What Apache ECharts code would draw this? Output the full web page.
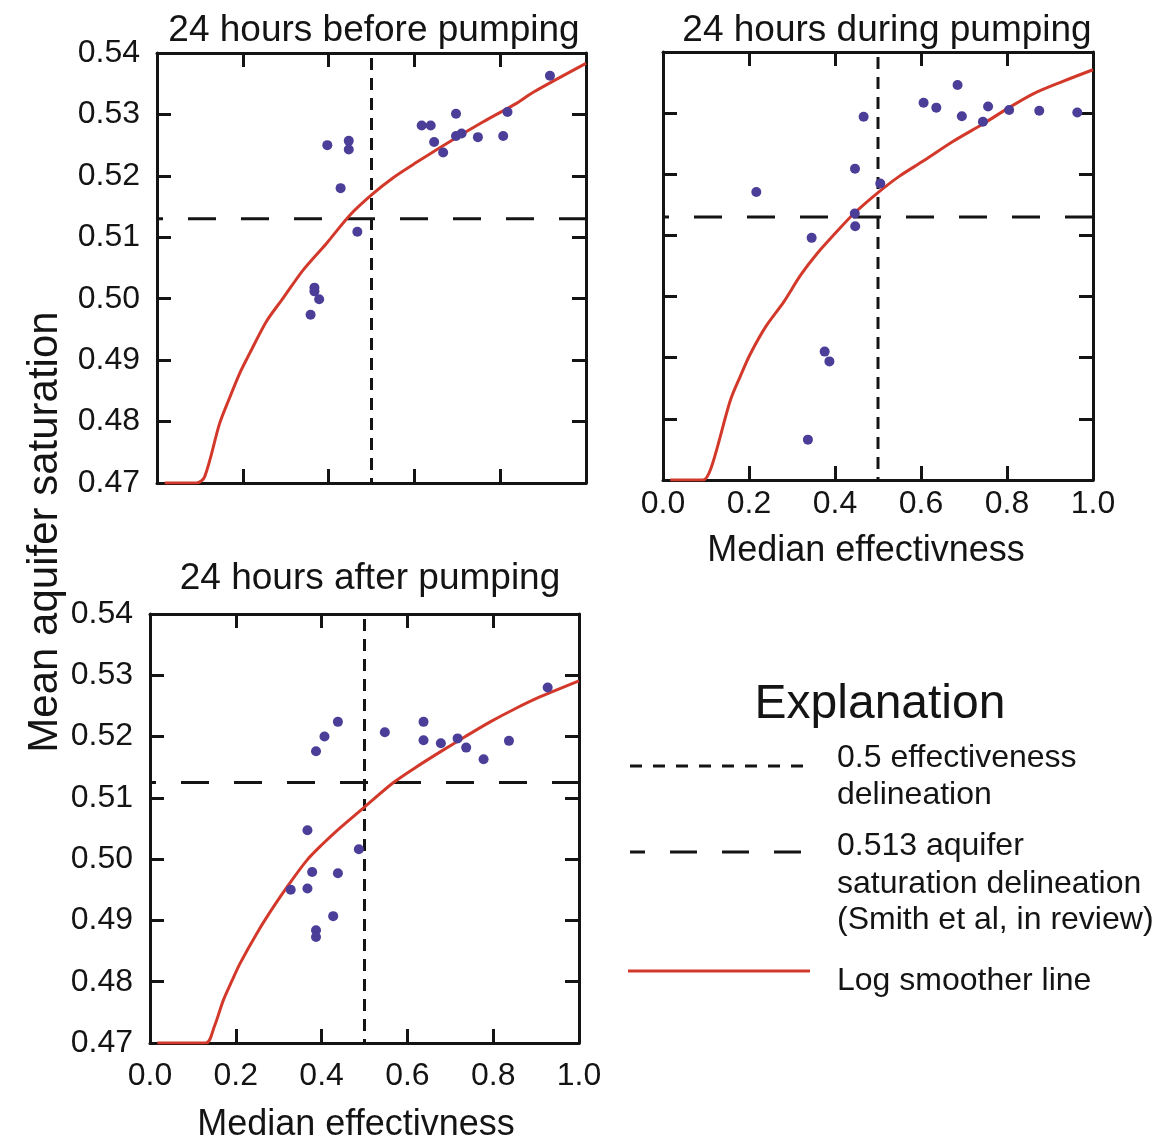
<!DOCTYPE html>
<html><head><meta charset="utf-8">
<script src="https://cdn.jsdelivr.net/npm/echarts/dist/echarts.min.js"></script>
<style>html,body{margin:0;padding:0;background:#fff}#c{width:1154px;height:1139px}</style>
</head><body><div id="c"></div>
<script>
// ---------- data ----------
const panelTitles = ['24 hours before pumping', '24 hours during pumping', '24 hours after pumping'];
const xTickValues = [0.0, 0.2, 0.4, 0.6, 0.8, 1.0];
const yTickValues = [0.47, 0.48, 0.49, 0.50, 0.51, 0.52, 0.53, 0.54];
const xName = 'Median effectivness';
const yName = 'Mean aquifer saturation';

const beforePoints = [[0.916,0.5363],[0.697,0.5301],[0.817,0.5304],[0.617,0.5282],[0.638,0.5282],
  [0.397,0.5250],[0.447,0.5257],[0.447,0.5243],[0.646,0.5255],[0.667,0.5238],[0.697,0.5265],
  [0.710,0.5269],[0.748,0.5263],[0.807,0.5265],[0.428,0.5180],[0.467,0.5109],[0.367,0.5018],
  [0.367,0.5012],[0.378,0.4999],[0.358,0.4974]];
const beforeCurve = [[0.018,0.47],[0.092,0.47],[0.111,0.4710],[0.146,0.4797],[0.170,0.4840],
  [0.193,0.4879],[0.216,0.4911],[0.255,0.4963],[0.294,0.5001],[0.341,0.5047],[0.395,0.5090],
  [0.4495,0.5136],[0.5,0.5169],[0.5505,0.5197],[0.605,0.5222],[0.683,0.5256],[0.7605,0.5288],
  [0.838,0.5318],[0.877,0.5336],[1.0,0.5383]];

const duringPoints = [[0.217,0.5171],[0.3457,0.5096],[0.337,0.4766],[0.376,0.4910],[0.387,0.4894],
  [0.4465,0.5209],[0.446,0.5136],[0.447,0.5115],[0.4666,0.5294],[0.5053,0.5185],[0.606,0.5317],
  [0.6356,0.5309],[0.685,0.5346],[0.695,0.5295],[0.756,0.5311],[0.744,0.5286],[0.805,0.5305],
  [0.875,0.5304],[0.9635,0.5301]];
const duringCurve = [[0.017,0.47],[0.093,0.47],[0.112,0.4720],[0.1565,0.4830],[0.18,0.4870],
  [0.203,0.4906],[0.24,0.4952],[0.2805,0.4991],[0.32,0.5035],[0.358,0.5070],[0.40,0.5103],
  [0.443,0.5135],[0.5,0.5170],[0.55,0.5197],[0.606,0.5222],[0.675,0.5254],[0.7457,0.5283],
  [0.80,0.5307],[0.862,0.5332],[0.93,0.5352],[1.0,0.5371]];

const afterPoints = [[0.927,0.5280],[0.438,0.5224],[0.6376,0.5224],[0.4067,0.5200],[0.387,0.5176],
  [0.5474,0.5207],[0.6376,0.5194],[0.678,0.5189],[0.717,0.5197],[0.737,0.5182],[0.7776,0.5163],
  [0.8367,0.5193],[0.367,0.5047],[0.4868,0.5016],[0.378,0.4979],[0.438,0.4977],[0.328,0.4950],
  [0.367,0.4952],[0.427,0.4907],[0.387,0.4884],[0.387,0.4873]];
const afterCurve = [[0.017,0.47],[0.130,0.47],[0.15,0.4727],[0.171,0.4770],[0.19,0.4800],
  [0.21,0.4830],[0.25,0.4880],[0.2877,0.4922],[0.325,0.4960],[0.3655,0.4998],[0.40,0.5023],
  [0.443,0.5051],[0.5,0.5085],[0.5676,0.5125],[0.62,0.5150],[0.6765,0.5175],[0.735,0.5200],
  [0.793,0.5224],[0.85,0.5245],[0.91,0.5265],[1.0,0.5291]];

const effectivenessCut = [0.5, 0.5, 0.5];
const saturationCut = [0.513, 0.513, 0.5125];

const legendLabels = ['0.5 effectiveness', 'delineation', '0.513 aquifer', 'saturation delineation',
  '(Smith et al, in review)', 'Log smoother line'];
const legendTitle = 'Explanation';

// ---------- chart ----------
const FONT = '"Liberation Sans", Arial, Helvetica, sans-serif';
const INK = '#141414';
const RED = '#d3392b';
const DOT = '#4a3e98';

const pointsAll = [beforePoints, duringPoints, afterPoints];
const curvesAll = [beforeCurve, duringCurve, afterCurve];

const grids = [
  {left: 157, top: 53, width: 429, height: 430},
  {left: 663, top: 52, width: 430, height: 428},
  {left: 150, top: 614, width: 429, height: 429}
];
const showX = [false, true, true];
const showY = [true, false, true];
const xLabelMargin = [8, 8, 17];
const xNameGap = [50, 53, 64];
const xNameShift = [0, 24, 17];

const xMin = xTickValues[0], xMax = xTickValues[xTickValues.length - 1];
const yMin = yTickValues[0], yMax = yTickValues[yTickValues.length - 1];

function baseAxis() {
  return {
    axisLine: {show: true, onZero: false, lineStyle: {color: INK, width: 3}},
    axisTick: {show: true, inside: true, length: 14, lineStyle: {color: INK, width: 3}},
    splitLine: {show: false},
    minorTick: {show: false}
  };
}

const xAxes = [], yAxes = [], series = [];
grids.forEach((g, i) => {
  xAxes.push(Object.assign(baseAxis(), {
    type: 'value', gridIndex: i, position: 'bottom', min: xMin, max: xMax, interval: 0.2,
    name: showX[i] ? xName : '', nameLocation: 'middle', nameGap: xNameGap[i],
    nameTextStyle: {fontFamily: FONT, fontSize: 36, color: INK, padding: [0, xNameShift[i], 0, 0]},
    axisLabel: {show: showX[i], margin: xLabelMargin[i], fontFamily: FONT, fontSize: 32, color: INK,
      showMinLabel: true, showMaxLabel: true, hideOverlap: false,
      formatter: v => v.toFixed(1)}
  }));
  xAxes.push(Object.assign(baseAxis(), {
    type: 'value', gridIndex: i, position: 'top', min: xMin, max: xMax, interval: 0.2,
    axisLabel: {show: false}
  }));
  yAxes.push(Object.assign(baseAxis(), {
    type: 'value', gridIndex: i, position: 'left', min: yMin, max: yMax, interval: 0.01,
    axisLabel: {show: showY[i], margin: 17, fontFamily: FONT, fontSize: 32, color: INK,
      showMinLabel: true, showMaxLabel: true, hideOverlap: false,
      formatter: v => v.toFixed(2)}
  }));
  yAxes.push(Object.assign(baseAxis(), {
    type: 'value', gridIndex: i, position: 'right', min: yMin, max: yMax, interval: 0.01,
    axisLabel: {show: false}
  }));
  const xi = i * 2, yi = i * 2;
  // horizontal delineation
  series.push({
    type: 'line', xAxisIndex: xi, yAxisIndex: yi, symbol: 'none', silent: true, z: 3,
    data: [[xMin, saturationCut[i]], [xMax, saturationCut[i]]],
    lineStyle: {color: INK, width: 3, type: [28, 25], dashOffset: 22}
  });
  // vertical delineation
  series.push({
    type: 'line', xAxisIndex: xi, yAxisIndex: yi, symbol: 'none', silent: true, z: 3,
    data: [[effectivenessCut[i], yMax], [effectivenessCut[i], yMin]],
    lineStyle: {color: INK, width: 3, type: [12, 8], dashOffset: -5}
  });
  // log smoother
  series.push({
    type: 'line', xAxisIndex: xi, yAxisIndex: yi, symbol: 'none', silent: true, z: 4,
    smooth: 0.3,
    data: curvesAll[i],
    lineStyle: {color: RED, width: 3}
  });
  // points
  series.push({
    type: 'scatter', xAxisIndex: xi, yAxisIndex: yi, symbol: 'circle', symbolSize: 10, z: 5,
    data: pointsAll[i],
    itemStyle: {color: DOT, opacity: 1}
  });
});

function txt(text, x, y, size, align, extra) {
  return Object.assign({
    type: 'text', x: x, y: y, silent: true,
    style: {text: text, fill: INK, font: size + 'px ' + FONT, fontSize: size, fontFamily: FONT,
      textAlign: align, textVerticalAlign: 'middle', verticalAlign: 'middle'}
  }, extra || {});
}
function seg(x1, x2, y, stroke, dash, offset) {
  return {type: 'line', silent: true,
    shape: {x1: x1, y1: y, x2: x2, y2: y},
    style: {stroke: stroke, lineWidth: 3, lineDash: dash, lineDashOffset: offset || 0}};
}

const graphic = [
  txt(panelTitles[0], 374, 31, 37, 'center'),
  txt(panelTitles[1], 887, 31, 37, 'center'),
  txt(panelTitles[2], 370, 579, 37, 'center'),
  txt(yName, 45, 532, 42, 'center', {rotation: Math.PI / 2}),
  txt(legendTitle, 880, 705, 48, 'center'),
  seg(630, 810, 766, INK, [12, 11], 0),
  seg(630, 806, 852, INK, [27, 25], 12),
  seg(628, 810, 971, RED, null, 0),
  txt(legendLabels[0], 837, 758, 32, 'left'),
  txt(legendLabels[1], 837, 795, 32, 'left'),
  txt(legendLabels[2], 837, 846, 32, 'left'),
  txt(legendLabels[3], 837, 884, 32, 'left'),
  txt(legendLabels[4], 837, 920, 32, 'left'),
  txt(legendLabels[5], 837, 981, 32, 'left')
];

const chart = echarts.init(document.getElementById('c'), null, {renderer: 'canvas'});
chart.setOption({
  animation: false,
  backgroundColor: '#ffffff',
  grid: grids.map(g => Object.assign({containLabel: false, outerBoundsMode: 'none', show: false}, g)),
  xAxis: xAxes,
  yAxis: yAxes,
  series: series,
  graphic: graphic
});
</script>
</body></html>
